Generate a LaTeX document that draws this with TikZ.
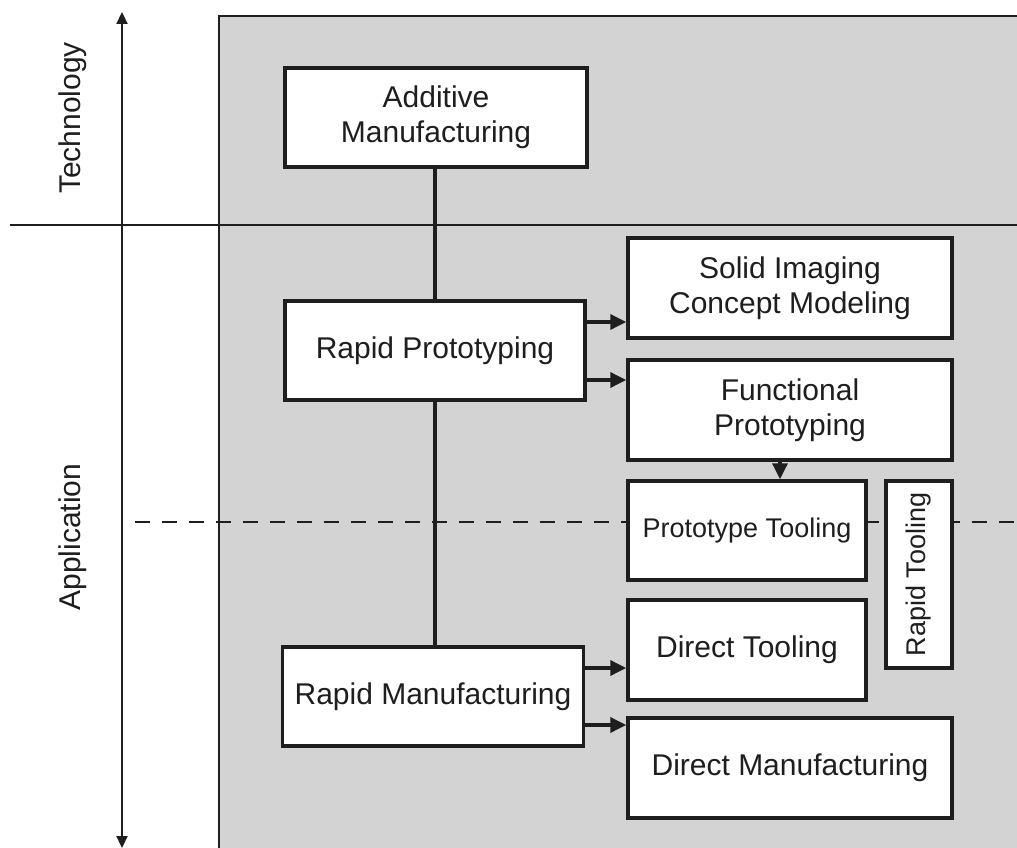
\documentclass[tikz,border=0pt]{standalone}
\usepackage{fontspec}
\setmainfont{Liberation Sans}
\usetikzlibrary{arrows.meta}
\definecolor{bggray}{HTML}{D3D3D3}
\definecolor{ink}{HTML}{1E1E1E}
\begin{document}
\begin{tikzpicture}[x=1pt,y=-1pt,
  box/.style={draw=ink,line width=3.5pt,fill=white,rectangle,inner sep=0pt,align=center,text=ink,
    font=\fontsize{30}{35}\selectfont},
  smallbox/.style={box,font=\fontsize{27}{32}\selectfont},
  conn/.style={draw=ink,line width=3.5pt},
  arr/.style={draw=ink,line width=3.5pt,-{Triangle[length=16pt,width=15pt]}},
  lbl/.style={text=ink,font=\fontsize{30}{35}\selectfont,rotate=90}]
\useasboundingbox (0,0) rectangle (1017,848);
% background panel
\fill[bggray] (219,16) rectangle (1017,848);
\draw[ink,line width=2.2pt] (219,848) -- (219,16) -- (1017,16);
% axis
\draw[ink,line width=2.2pt,{Triangle[length=12pt,width=11pt]}-{Triangle[length=12pt,width=11pt]}] (122,848) -- (122,12);
\draw[ink,line width=2pt] (10,225) -- (1017,225);
\draw[ink,line width=2pt,dash pattern=on 15pt off 12pt] (135,522) -- (1017,522);
\node[lbl] (tech) at (73,118) {Technology};
\node[lbl] (app) at (73,537) {Application};
% boxes
\node[box,minimum width=302pt,minimum height=99pt] (AM) at (436,117.5) {Additive\\Manufacturing};
\node[box,minimum width=300pt,minimum height=99pt] (RP) at (435,350.5) {Rapid Prototyping};
\node[box,minimum width=301pt,minimum height=99pt] (RM) at (433,696.5) {Rapid Manufacturing};
\node[box,minimum width=324pt,minimum height=100pt] (SI) at (790,288) {Solid Imaging\\Concept Modeling};
\node[box,minimum width=324pt,minimum height=100pt] (FP) at (790,410) {Functional\\Prototyping};
\node[smallbox,minimum width=238pt,minimum height=99pt] (PT) at (747,530.5) {Prototype Tooling};
\node[smallbox,minimum width=66pt,minimum height=187pt] (RT) at (919,574.5) {\rotatebox{90}{Rapid Tooling}};
\node[box,minimum width=238pt,minimum height=100pt] (DT) at (747,650) {Direct Tooling};
\node[box,minimum width=324pt,minimum height=100pt] (DM) at (790,768) {Direct Manufacturing};
% connectors
\draw[conn] (RP.north) -- (RP.north |- AM.south);
\draw[conn] (RP.south) -- (RP.south |- RM.north);
\draw[arr] (RP.east |- 0,322) -- (SI.west |- 0,322);
\draw[arr] (RP.east |- 0,380) -- (FP.west |- 0,380);
\draw[arr] (FP.south -| 780,0) -- (PT.north -| 780,0);
\draw[arr] (RM.east |- 0,668) -- (DT.west |- 0,668);
\draw[arr] (RM.east |- 0,725) -- (DM.west |- 0,725);
\end{tikzpicture}
\end{document}
